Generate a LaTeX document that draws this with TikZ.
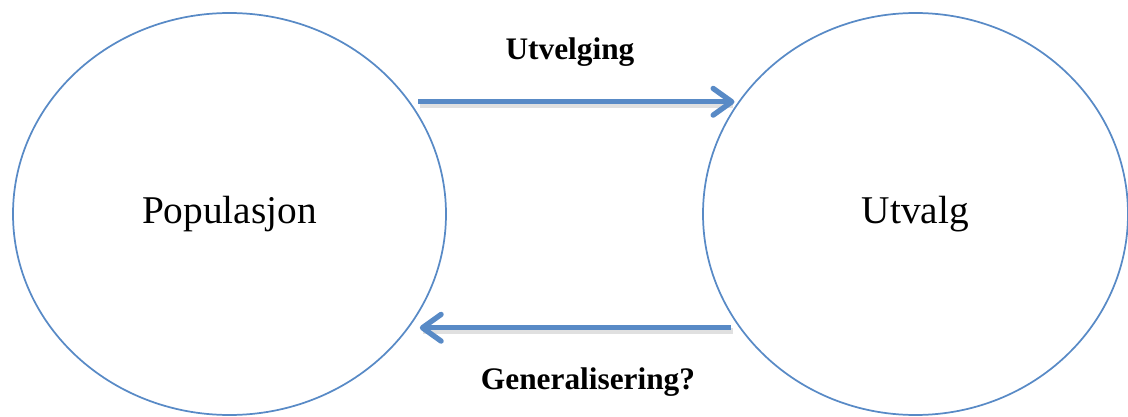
\documentclass[tikz,border=0pt]{standalone}
\usepackage{fontspec}
\setmainfont{Liberation Serif}
\usetikzlibrary{shapes.geometric,arrows.meta}
\definecolor{wordblue}{RGB}{88,138,198}
\tikzset{
  bigell/.style={ellipse, draw=wordblue, line width=1.3pt, inner sep=0pt, outer sep=0pt,
    minimum width=324.75pt, minimum height=301.5pt,
    font=\fontsize{29.5}{34}\selectfont},
  arr/.style={draw=wordblue, line width=4pt,
    -{Straight Barb[length=14pt, width=20pt, line cap=round, line join=round]}},
  shad/.style={draw=black, opacity=0.12, line width=4.5pt},
  lbl/.style={font=\fontsize{23.5}{28}\selectfont\bfseries, inner sep=0pt}
}
\begin{document}
\begin{tikzpicture}[x=0.75pt, y=-0.75pt]
\useasboundingbox (0,0) rectangle (1128,417);
\node[bigell] (L) at (229.5,214) {Populasjon};
\node[bigell, minimum width=318.75pt] (R) at (915.5,214) {Utvalg};
% anchor points on the borders, at the arrows' heights
\coordinate (a1) at (L.32.6);
\coordinate (a2) at (a1 -| R.146.9);
\coordinate (b1) at (R.213.4);
\coordinate (b2) at (b1 -| L.-32.9);
% shadows
\draw[shad, shorten <=7pt, shorten >=8pt, transform canvas={shift={(1.2pt,-2.6pt)}}] (a1) -- (a2);
\draw[shad, shorten <=7pt, shorten >=9pt, transform canvas={shift={(1.2pt,-2.6pt)}}] (b1) -- (b2);
% connectors
\draw[arr, shorten <=7pt, shorten >=6pt] (a1) -- (a2);
\draw[arr, shorten <=7pt, shorten >=8pt] (b1) -- (b2);
\node[lbl] (t1) at (570,52) {Utvelging};
\node[lbl] (t2) at (588,382) {Generalisering?};
\end{tikzpicture}
\end{document}
